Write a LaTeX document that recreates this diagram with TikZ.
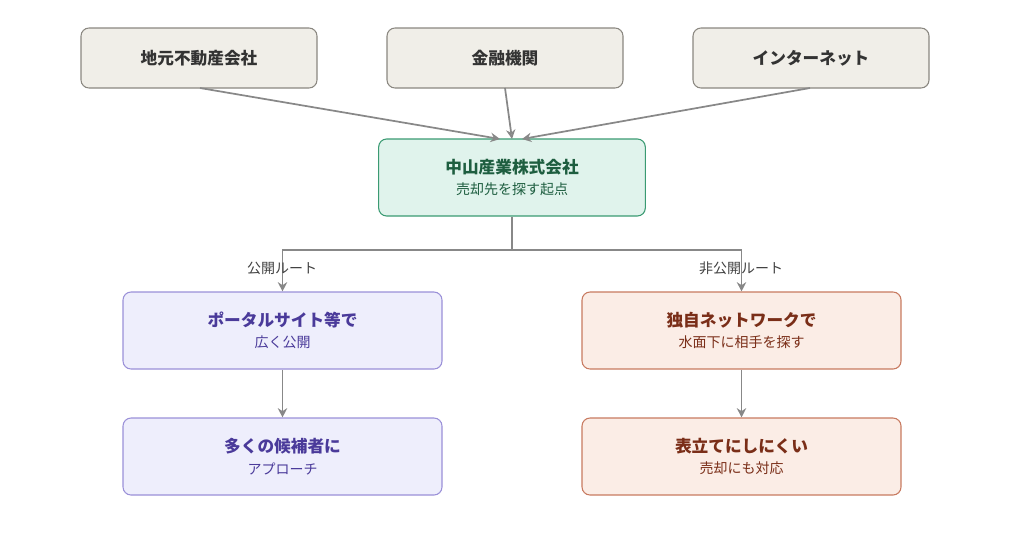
\documentclass[tikz,border=0pt]{standalone}
\usepackage{fontspec}
\setmainfont{Noto Sans CJK JP}
\usetikzlibrary{arrows.meta}
\definecolor{gf}{HTML}{F0EEE8}\definecolor{gd}{HTML}{8A8780}
\definecolor{cf}{HTML}{E0F3EC}\definecolor{cd}{HTML}{3A9A72}\definecolor{ct}{HTML}{1E5E40}
\definecolor{lf}{HTML}{EEEEFC}\definecolor{ld}{HTML}{9A90D8}\definecolor{lt}{HTML}{4A3A9A}
\definecolor{rf}{HTML}{FBEDE6}\definecolor{rd}{HTML}{C87A60}\definecolor{rt}{HTML}{7A2E18}
\definecolor{ar}{HTML}{888888}
\begin{document}
\begin{tikzpicture}[x=0.75pt,y=-0.75pt,
 box/.style={rounded corners=6pt,line width=0.8pt,minimum width=236*0.75pt,minimum height=60*0.75pt,inner sep=0pt,align=center},
 g/.style={box,fill=gf,draw=gd,font=\fontsize{12.5}{15}\selectfont\bfseries,text=black!80},
 big/.style={box,minimum width=319*0.75pt,minimum height=77*0.75pt},
 c/.style={big,minimum width=264*0.75pt,fill=cf,draw=cd,text=ct},
 l/.style={big,fill=lf,draw=ld,text=lt},
 r/.style={big,fill=rf,draw=rd,text=rt},
 t/.style={font=\fontsize{12.5}{15}\selectfont\bfseries},
 s/.style={font=\fontsize{10.5}{13}\selectfont},
 a/.style={draw=ar,line width=1.3pt,-{Stealth[length=7pt,width=7pt,open]}},
 lab/.style={font=\fontsize{10.5}{13}\selectfont,text=black!75}]
\useasboundingbox (0,0) rectangle (1024,557);
\node[g] (a) at (199,58) {地元不動産会社};
\node[g] (b) at (505,58) {金融機関};
\node[g] (c) at (811,58) {インターネット};
\node[c] (m) at (512,177.5) {\parbox{200pt}{\centering{\fontsize{12.5}{15}\selectfont\bfseries 中山産業株式会社}\\[4pt]{\fontsize{10.5}{13}\selectfont 売却先を探す起点}}};
\node[l] (l1) at (282.5,330.5) {{\fontsize{12.5}{15}\selectfont\bfseries ポータルサイト等で}\\[4pt]{\fontsize{10.5}{13}\selectfont 広く公開}};
\node[l] (l2) at (282.5,456.5) {{\fontsize{12.5}{15}\selectfont\bfseries 多くの候補者に}\\[4pt]{\fontsize{10.5}{13}\selectfont アプローチ}};
\node[r] (r1) at (741.5,330.5) {{\fontsize{12.5}{15}\selectfont\bfseries 独自ネットワークで}\\[4pt]{\fontsize{10.5}{13}\selectfont 水面下に相手を探す}};
\node[r] (r2) at (741.5,456.5) {{\fontsize{12.5}{15}\selectfont\bfseries 表立てにしにくい}\\[4pt]{\fontsize{10.5}{13}\selectfont 売却にも対応}};
\coordinate (ma) at (500,139);\coordinate (mb) at (512,139);\coordinate (mc) at (522,139);
\draw[a] (200,88) -- (ma);
\draw[a] (505,88) -- (mb);
\draw[a] (810,88) -- (mc);
\coordinate (j) at (512,250);
\draw[a] (m.south) -- (j) -| (l1.north);
\draw[a] (j) -| (r1.north);
\node[lab] at (282,268) {公開ルート};
\node[lab] at (741,268) {非公開ルート};
\draw[a] (l1) -- (l2);
\draw[a] (r1) -- (r2);
\end{tikzpicture}
\end{document}
